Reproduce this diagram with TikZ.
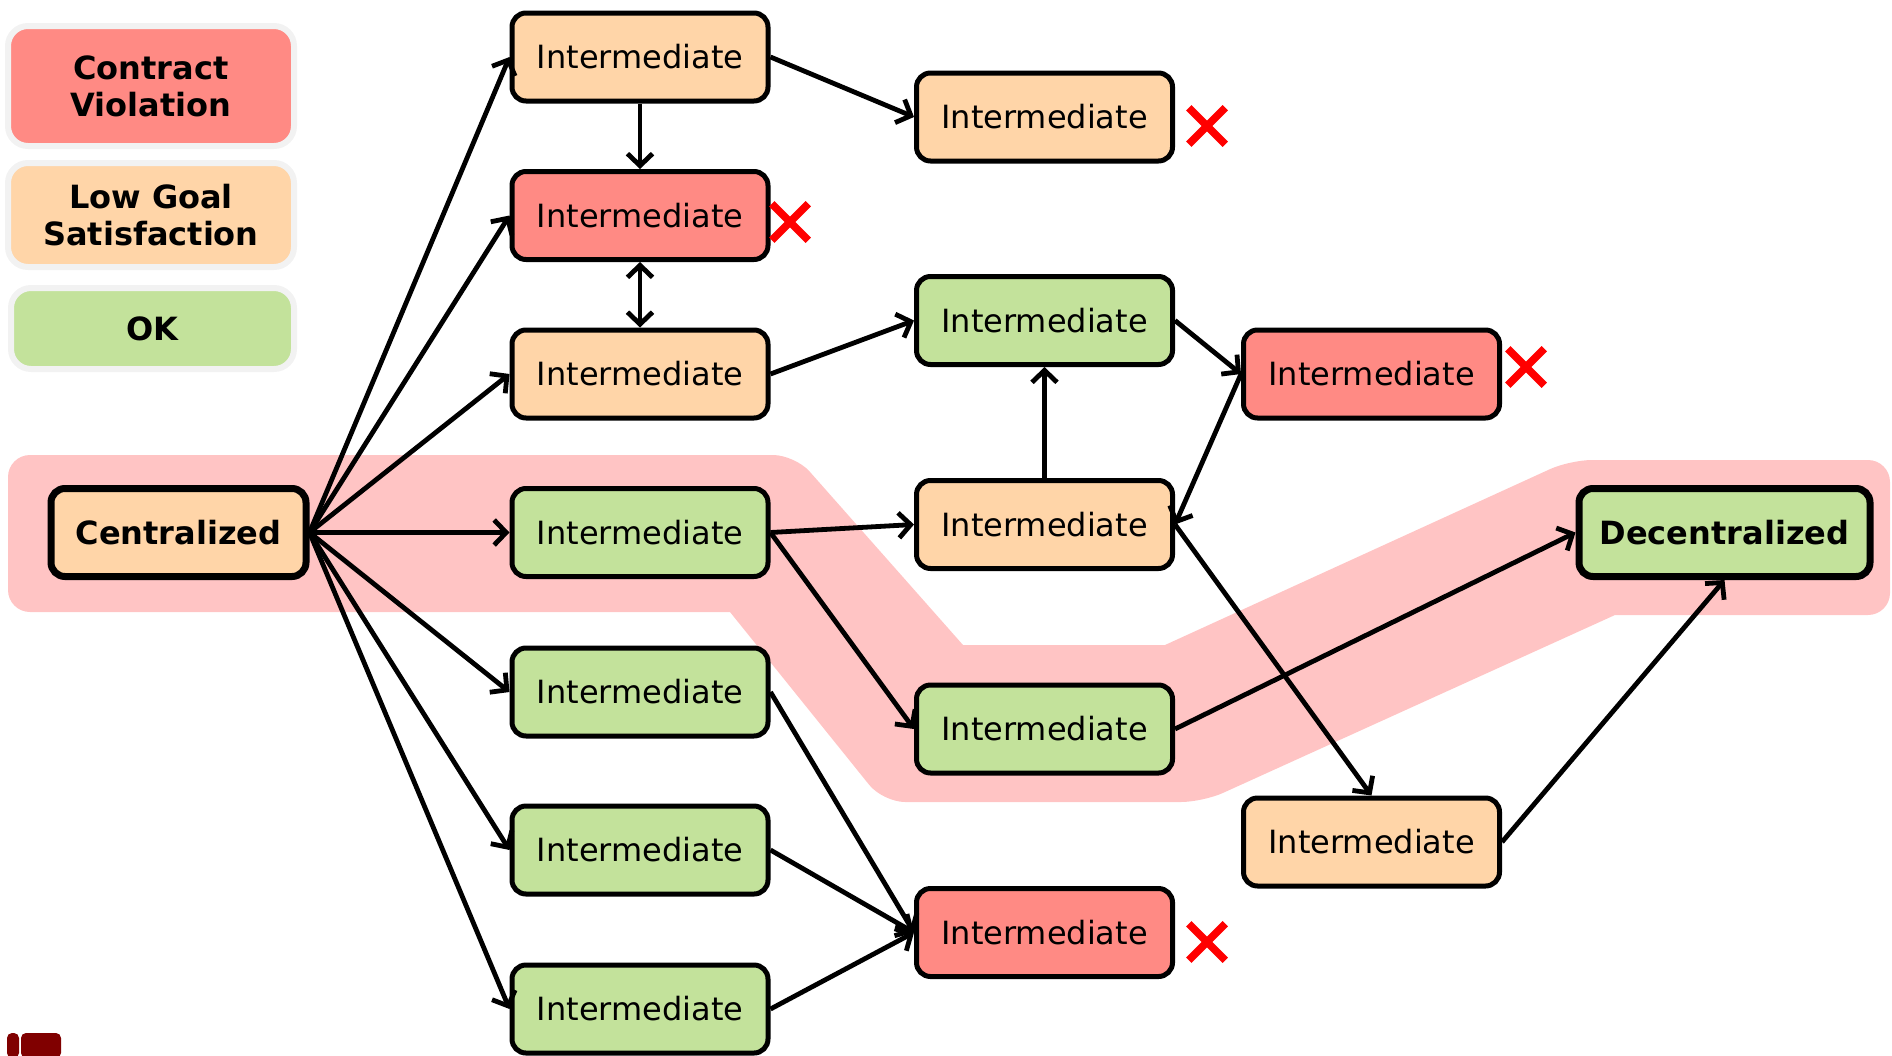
\documentclass[tikz,border=0pt]{standalone}
\usepackage{fontspec}
\setmainfont{DejaVu Sans}
\usetikzlibrary{arrows.meta,shapes.misc}

\definecolor{peach}{HTML}{FFD5A8}
\definecolor{violred}{HTML}{FF8A84}
\definecolor{okgreen}{HTML}{C3E29B}
\definecolor{bandpink}{HTML}{FFC4C4}
\definecolor{legendedge}{HTML}{F2F2F2}
\definecolor{logored}{HTML}{800000}

\tikzset{
  state/.style={rectangle, rounded corners=14pt, draw=black, line width=5pt,
    minimum width=256pt, minimum height=88pt, inner sep=0pt,
    font=\fontsize{32}{38}\selectfont},
  endstate/.style={state, line width=7pt, font=\fontsize{32}{38}\selectfont\bfseries},
  legendbox/.style={rectangle, rounded corners=20pt, draw=legendedge, line width=6pt,
    inner sep=0pt, align=center, font=\fontsize{32}{37}\selectfont\bfseries},
  fail/.style={cross out, draw=red, line width=7.5pt, minimum size=29pt, inner sep=0pt},
  flow/.style={line width=4.8pt, -{Straight Barb[length=12pt,width=25pt]}},
  flowboth/.style={line width=4.8pt, {Straight Barb[length=12pt,width=25pt]}-{Straight Barb[length=12pt,width=25pt]}},
}

\begin{document}
\begin{tikzpicture}[x=1pt,y=-1pt]
\useasboundingbox (0,0) rectangle (1892,1055);

% highlighted path from centralized to decentralized
\fill[bandpink, rounded corners=22pt]
  (8,455) -- (795,455) [sharp corners] -- (963,645) -- (1165,645) [rounded corners=22pt] -- (1570,460) -- (1890,460)
  -- (1890,615) [sharp corners] -- (1615,615) [rounded corners=22pt] -- (1203,802) -- (883,802) [sharp corners] -- (730,612) [rounded corners=22pt] -- (8,612) -- cycle;

% legend
\node[legendbox, fill=violred, minimum width=286pt, minimum height=120pt] (lgcv) at (151,86) {Contract\\Violation};
\node[legendbox, fill=peach, minimum width=286pt, minimum height=104pt] (lglg) at (151,215) {Low Goal\\Satisfaction};
\node[legendbox, fill=okgreen, minimum width=283pt, minimum height=81pt] (lgok) at (152.5,328.5) {OK};

% start and end configurations
\node[endstate, fill=peach, minimum width=255pt] (cen) at (178.5,532.5) {Centralized};
\node[endstate, fill=okgreen, minimum width=291pt] (dec) at (1724.5,532.5) {Decentralized};

% first column
\node[state, fill=peach]   (a1) at (640,57)    {Intermediate};
\node[state, fill=violred] (a2) at (640,215.5) {Intermediate};
\node[state, fill=peach]   (a3) at (640,374)   {Intermediate};
\node[state, fill=okgreen] (a4) at (640,532.5) {Intermediate};
\node[state, fill=okgreen] (a5) at (640,692)   {Intermediate};
\node[state, fill=okgreen] (a6) at (640,850)   {Intermediate};
\node[state, fill=okgreen] (a7) at (640,1009)  {Intermediate};

% second column
\node[state, fill=peach]   (b1) at (1044.5,117)   {Intermediate};
\node[state, fill=okgreen] (b2) at (1044.5,320.5) {Intermediate};
\node[state, fill=peach]   (b3) at (1044.5,524.5) {Intermediate};
\node[state, fill=okgreen] (b4) at (1044.5,729)   {Intermediate};
\node[state, fill=violred] (b5) at (1044.5,932.5) {Intermediate};

% third column
\node[state, fill=violred] (c1) at (1371.5,374) {Intermediate};
\node[state, fill=peach]   (c2) at (1371.5,842) {Intermediate};

% failure marks
\node[fail] (xa2) at (790,222) {};
\node[fail] (xb1) at (1207,126) {};
\node[fail] (xc1) at (1526,367) {};
\node[fail] (xb5) at (1207,942) {};

% transitions
\foreach \t in {a1,a2,a3,a4,a5,a6,a7}
  \draw[flow] (cen.east) -- (\t.west);
\draw[flow] (a1.east) -- (b1.west);
\draw[flow] (a1.south) -- (a2.north);
\draw[flowboth] (a2.south) -- (a3.north);
\draw[flow] (a3.east) -- (b2.west);
\draw[flow] (a4.east) -- (b3.west);
\draw[flow] (a4.east) -- (b4.west);
\draw[flow] (b3.north) -- (b2.south);
\draw[flow] (b2.east) -- (c1.west);
\draw[flow] (c1.west) -- (b3.east);
\draw[flow] (b3.east) -- (c2.north);
\draw[flow] (b4.east) -- (dec.west);
\draw[flow] (c2.east) -- (dec.south);
\draw[flow] (a5.east) -- (b5.west);
\draw[flow] (a6.east) -- (b5.west);
\draw[flow] (a7.east) -- (b5.west);

% corner logo
\fill[logored, rounded corners=5pt] (7,1058) -- (7,1033) -- (19,1033) -- (19,1058) -- cycle;
\fill[logored, rounded corners=5pt] (21,1058) -- (21,1033) -- (61,1033) -- (61,1058) -- cycle;
\end{tikzpicture}
\end{document}
